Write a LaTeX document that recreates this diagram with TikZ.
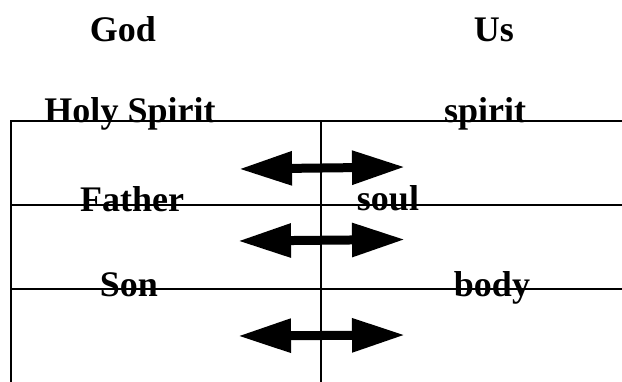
\documentclass[tikz,border=0pt]{standalone}
\usepackage{fontspec}
\setmainfont{Liberation Serif}
\usepackage{tikz}
\usetikzlibrary{arrows.meta}
\tikzset{
  word/.style={font=\fontsize{36}{40}\selectfont\bfseries, anchor=base, inner sep=0pt},
  gridline/.style={line width=2pt, line cap=rect},
  bothway/.style={line width=9pt, {Triangle[length=53pt,width=32pt]}-{Triangle[length=53pt,width=32pt]}}
}

\begin{document}
\begin{tikzpicture}[x=1pt, y=-1pt]
    \useasboundingbox (0,0) rectangle (622,381);

    % Headings
    \node[word] (god) at (123,41) {God};
    \node[word] (us) at (494,41) {Us};

    % Grid
    \coordinate (topleft) at (11,121);
    \coordinate (topmid) at (321,121);
    \coordinate (botleft) at (11,381);
    \coordinate (botmid) at (321,381);
    \foreach \y/\name in {121/one, 205/two, 289/three} {
        \coordinate (row\name L) at (11,\y);
        \coordinate (row\name R) at (622,\y);
        \draw[gridline] (row\name L) -- (row\name R);
    }
    \draw[gridline] (topleft) -- (botleft);
    \draw[gridline] (topmid) -- (botmid);

    % God side
    \node[word] (holyspirit) at (130,122.5) {Holy Spirit};
    \node[word] (father) at (132,211.5) {Father};
    \node[word] (son) at (129,296.5) {Son};

    % Us side
    \node[word] (spirit) at (485,122.5) {spirit};
    \node[word] (soul) at (388,210.5) {soul};
    \node[word] (body) at (492,296.5) {body};

    % Arrows
    \coordinate (a1l) at (239,169);
    \coordinate (a1r) at (405,167);
    \coordinate (a2l) at (238,241);
    \coordinate (a2r) at (405,239.5);
    \coordinate (a3l) at (238,336);
    \coordinate (a3r) at (405,335);
    \draw[bothway] (a1l) -- (a1r);
    \draw[bothway] (a2l) -- (a2r);
    \draw[bothway] (a3l) -- (a3r);

\end{tikzpicture}
\end{document}
